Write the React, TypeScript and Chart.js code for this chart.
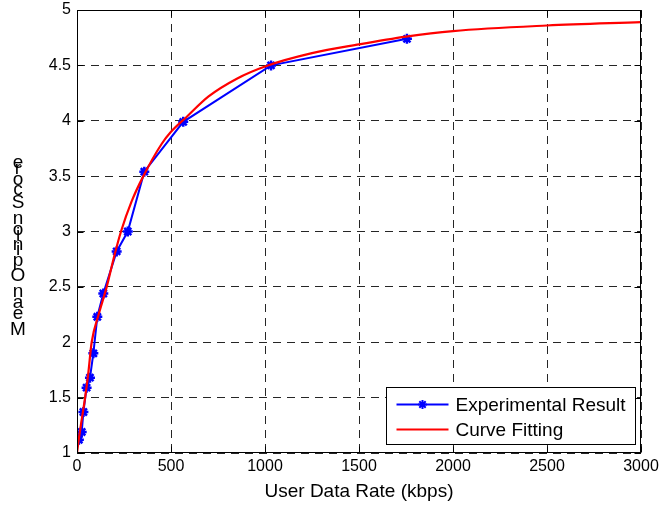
import React, { useEffect, useRef } from 'react';
import { Chart, registerables } from 'chart.js';

Chart.register(...registerables);

// ---- Data ----
const EXP_RATE = [10, 25, 34, 51, 69, 87, 108, 140, 211, 270, 358, 565, 1032, 1755];
const EXP_MOS = [1.12, 1.19, 1.37, 1.59, 1.68, 1.9, 2.23, 2.44, 2.82, 3.0, 3.54, 3.99, 4.5, 4.74];

const FIT_RATE = [0, 10, 25, 43, 60, 78, 115, 158, 200, 234, 290, 353, 450, 500, 580, 700, 850, 1000, 1250, 1500, 1750, 2000, 2500, 3000];
const FIT_MOS = [1.0, 1.13, 1.3, 1.5, 1.72, 2.0, 2.25, 2.5, 2.79, 3.0, 3.27, 3.5, 3.79, 3.9, 4.03, 4.22, 4.38, 4.49, 4.61, 4.69, 4.76, 4.81, 4.86, 4.89];

const X_TICKS = [0, 500, 1000, 1500, 2000, 2500, 3000];
const Y_TICKS = [1, 1.5, 2, 2.5, 3, 3.5, 4, 4.5, 5];

const SERIES_LABELS = ['Experimental Result', 'Curve Fitting'];
const SERIES_COLORS = ['#0000ff', '#ff0000'];
const X_TITLE = 'User Data Rate (kbps)';
const Y_TITLE = 'Mean Opinion Score';

const FONT = '"Liberation Sans", Arial, Helvetica, sans-serif';
const GRID_COLOR = 'rgba(0,0,0,0.85)';

const boxPlugin = {
  id: 'matlabBox',
  afterDraw(chart: any) {
    const { ctx, chartArea } = chart;
    const { left, right, top, bottom } = chartArea;
    const L = Math.round(left) + 0.5;
    const R = Math.round(right) - 0.5;
    const T = Math.round(top) + 0.5;
    const B = Math.round(bottom) - 0.5;
    ctx.save();
    ctx.strokeStyle = '#000';
    ctx.lineWidth = 1;
    ctx.setLineDash([]);
    ctx.strokeRect(L, T, R - L, B - T);
    const tl = 6;
    const xs = chart.scales.x;
    const ys = chart.scales.y;
    ctx.beginPath();
    X_TICKS.forEach((v) => {
      const px = Math.round(xs.getPixelForValue(v)) + 0.5;
      ctx.moveTo(px, B);
      ctx.lineTo(px, B - tl);
      ctx.moveTo(px, T);
      ctx.lineTo(px, T + tl);
    });
    Y_TICKS.forEach((v) => {
      const py = Math.round(ys.getPixelForValue(v)) + 0.5;
      ctx.moveTo(L, py);
      ctx.lineTo(L + tl, py);
      ctx.moveTo(R, py);
      ctx.lineTo(R - tl, py);
    });
    ctx.stroke();
    ctx.restore();
  },
};

const yTitlePlugin = {
  id: 'stackedYTitle',
  afterDraw(chart: any) {
    const { ctx, chartArea } = chart;
    ctx.save();
    ctx.font = `19px ${FONT}`;
    ctx.fillStyle = '#000';
    ctx.textAlign = 'center';
    ctx.textBaseline = 'alphabetic';
    const chars = Array.from(Y_TITLE);
    const adv = chars.map((c) => ctx.measureText(c).width);
    const total = adv.slice(0, -1).reduce((a, b) => a + b, 0);
    const span = 167;
    const k = span / total;
    let y = chartArea.bottom - 118;
    const x = 18;
    chars.forEach((c, i) => {
      if (c !== ' ') ctx.fillText(c, x, y);
      y -= adv[i] * k;
    });
    ctx.restore();
  },
};

const legendPlugin = {
  id: 'insideLegend',
  afterDraw(chart: any) {
    const { ctx, chartArea } = chart;
    ctx.save();
    ctx.font = `19px ${FONT}`;
    const widths = SERIES_LABELS.map((t) => ctx.measureText(t).width);
    const maxW = Math.max(...widths);
    const padL = 10;
    const lineLen = 52;
    const gap = 7;
    const padR = 10;
    const boxW = padL + lineLen + gap + maxW + padR;
    const boxRight = Math.round(chartArea.right) - 5.5;
    const boxBottom = Math.round(chartArea.bottom) - 8.5;
    const boxH = 57;
    const boxLeft = Math.round(boxRight - boxW) + 0.5;
    const boxTop = boxBottom - boxH;
    ctx.fillStyle = '#fff';
    ctx.fillRect(boxLeft, boxTop, boxRight - boxLeft, boxH);
    ctx.strokeStyle = '#000';
    ctx.lineWidth = 1;
    ctx.strokeRect(boxLeft, boxTop, boxRight - boxLeft, boxH);
    const rows = [boxTop + 17, boxTop + 42];
    SERIES_LABELS.forEach((label, i) => {
      const cy = rows[i];
      const x0 = boxLeft + padL;
      ctx.strokeStyle = SERIES_COLORS[i];
      ctx.lineWidth = 2;
      ctx.beginPath();
      ctx.moveTo(x0, cy);
      ctx.lineTo(x0 + lineLen, cy);
      ctx.stroke();
      if (i === 0) {
        const mx = x0 + lineLen / 2;
        const r = 4.5;
        ctx.beginPath();
        ctx.moveTo(mx - r, cy);
        ctx.lineTo(mx + r, cy);
        ctx.moveTo(mx, cy - r);
        ctx.lineTo(mx, cy + r);
        const d = r * 0.707;
        ctx.moveTo(mx - d, cy - d);
        ctx.lineTo(mx + d, cy + d);
        ctx.moveTo(mx - d, cy + d);
        ctx.lineTo(mx + d, cy - d);
        ctx.stroke();
      }
      ctx.fillStyle = '#000';
      ctx.textAlign = 'left';
      ctx.textBaseline = 'middle';
      ctx.fillText(label, x0 + lineLen + gap, cy + 1);
    });
    ctx.restore();
  },
};

export default function App() {
  const ref = useRef<HTMLCanvasElement | null>(null);

  useEffect(() => {
    if (!ref.current) return;
    const chart = new Chart(ref.current, {
      type: 'line',
      data: {
        datasets: [
          {
            label: SERIES_LABELS[0],
            data: EXP_RATE.map((x, i) => ({ x, y: EXP_MOS[i] })),
            borderColor: SERIES_COLORS[0],
            backgroundColor: SERIES_COLORS[0],
            borderWidth: 2,
            pointStyle: 'star',
            pointRadius: 5,
            pointBorderWidth: 2.5,
            pointBorderColor: SERIES_COLORS[0],
            tension: 0,
            fill: false,
            order: 1,
          },
          {
            label: SERIES_LABELS[1],
            data: FIT_RATE.map((x, i) => ({ x, y: FIT_MOS[i] })),
            borderColor: SERIES_COLORS[1],
            backgroundColor: SERIES_COLORS[1],
            borderWidth: 2.2,
            pointRadius: 0,
            cubicInterpolationMode: 'monotone',
            fill: false,
            order: 0,
          },
        ],
      },
      options: {
        animation: false,
        responsive: false,
        devicePixelRatio: 1,
        layout: { padding: { top: 10, right: 18, left: 0, bottom: 0 } },
        plugins: {
          legend: { display: false },
          tooltip: { enabled: false },
        },
        scales: {
          x: {
            type: 'linear',
            min: 0,
            max: 3000,
            afterBuildTicks: (s: any) => {
              s.ticks = X_TICKS.map((v) => ({ value: v }));
            },
            afterFit: (s: any) => {
              s.height = 53;
              s.paddingLeft = 0;
              s.paddingRight = 0;
            },
            ticks: {
              callback: (v: any) => String(v),
              font: { size: 16, family: FONT },
              color: '#000',
              padding: 4,
              maxRotation: 0,
              autoSkip: false,
            },
            grid: { color: GRID_COLOR, lineWidth: 1, drawTicks: false },
            border: { display: false, dash: [8, 6] },
            title: {
              display: true,
              text: X_TITLE,
              font: { size: 19, family: FONT },
              color: '#000',
              padding: { top: 0, bottom: 3 },
            },
          },
          y: {
            type: 'linear',
            min: 1,
            max: 5,
            afterBuildTicks: (s: any) => {
              s.ticks = Y_TICKS.map((v) => ({ value: v }));
            },
            afterFit: (s: any) => {
              s.width = 77;
              s.paddingTop = 0;
              s.paddingBottom = 0;
            },
            ticks: {
              callback: (v: any) => String(v),
              font: { size: 16, family: FONT },
              color: '#000',
              padding: 6,
              autoSkip: false,
            },
            grid: { color: GRID_COLOR, lineWidth: 1, drawTicks: false },
            border: { display: false, dash: [8, 6] },
            title: { display: false, text: Y_TITLE },
          },
        },
      } as any,
      plugins: [boxPlugin, yTitlePlugin, legendPlugin],
    });
    return () => chart.destroy();
  }, []);

  return (
    <div style={{ position: 'fixed', left: 0, top: 0, width: 659, height: 506, background: '#fff' }}>
      <canvas ref={ref} width={659} height={506} style={{ width: 659, height: 506, display: 'block' }} />
    </div>
  );
}
